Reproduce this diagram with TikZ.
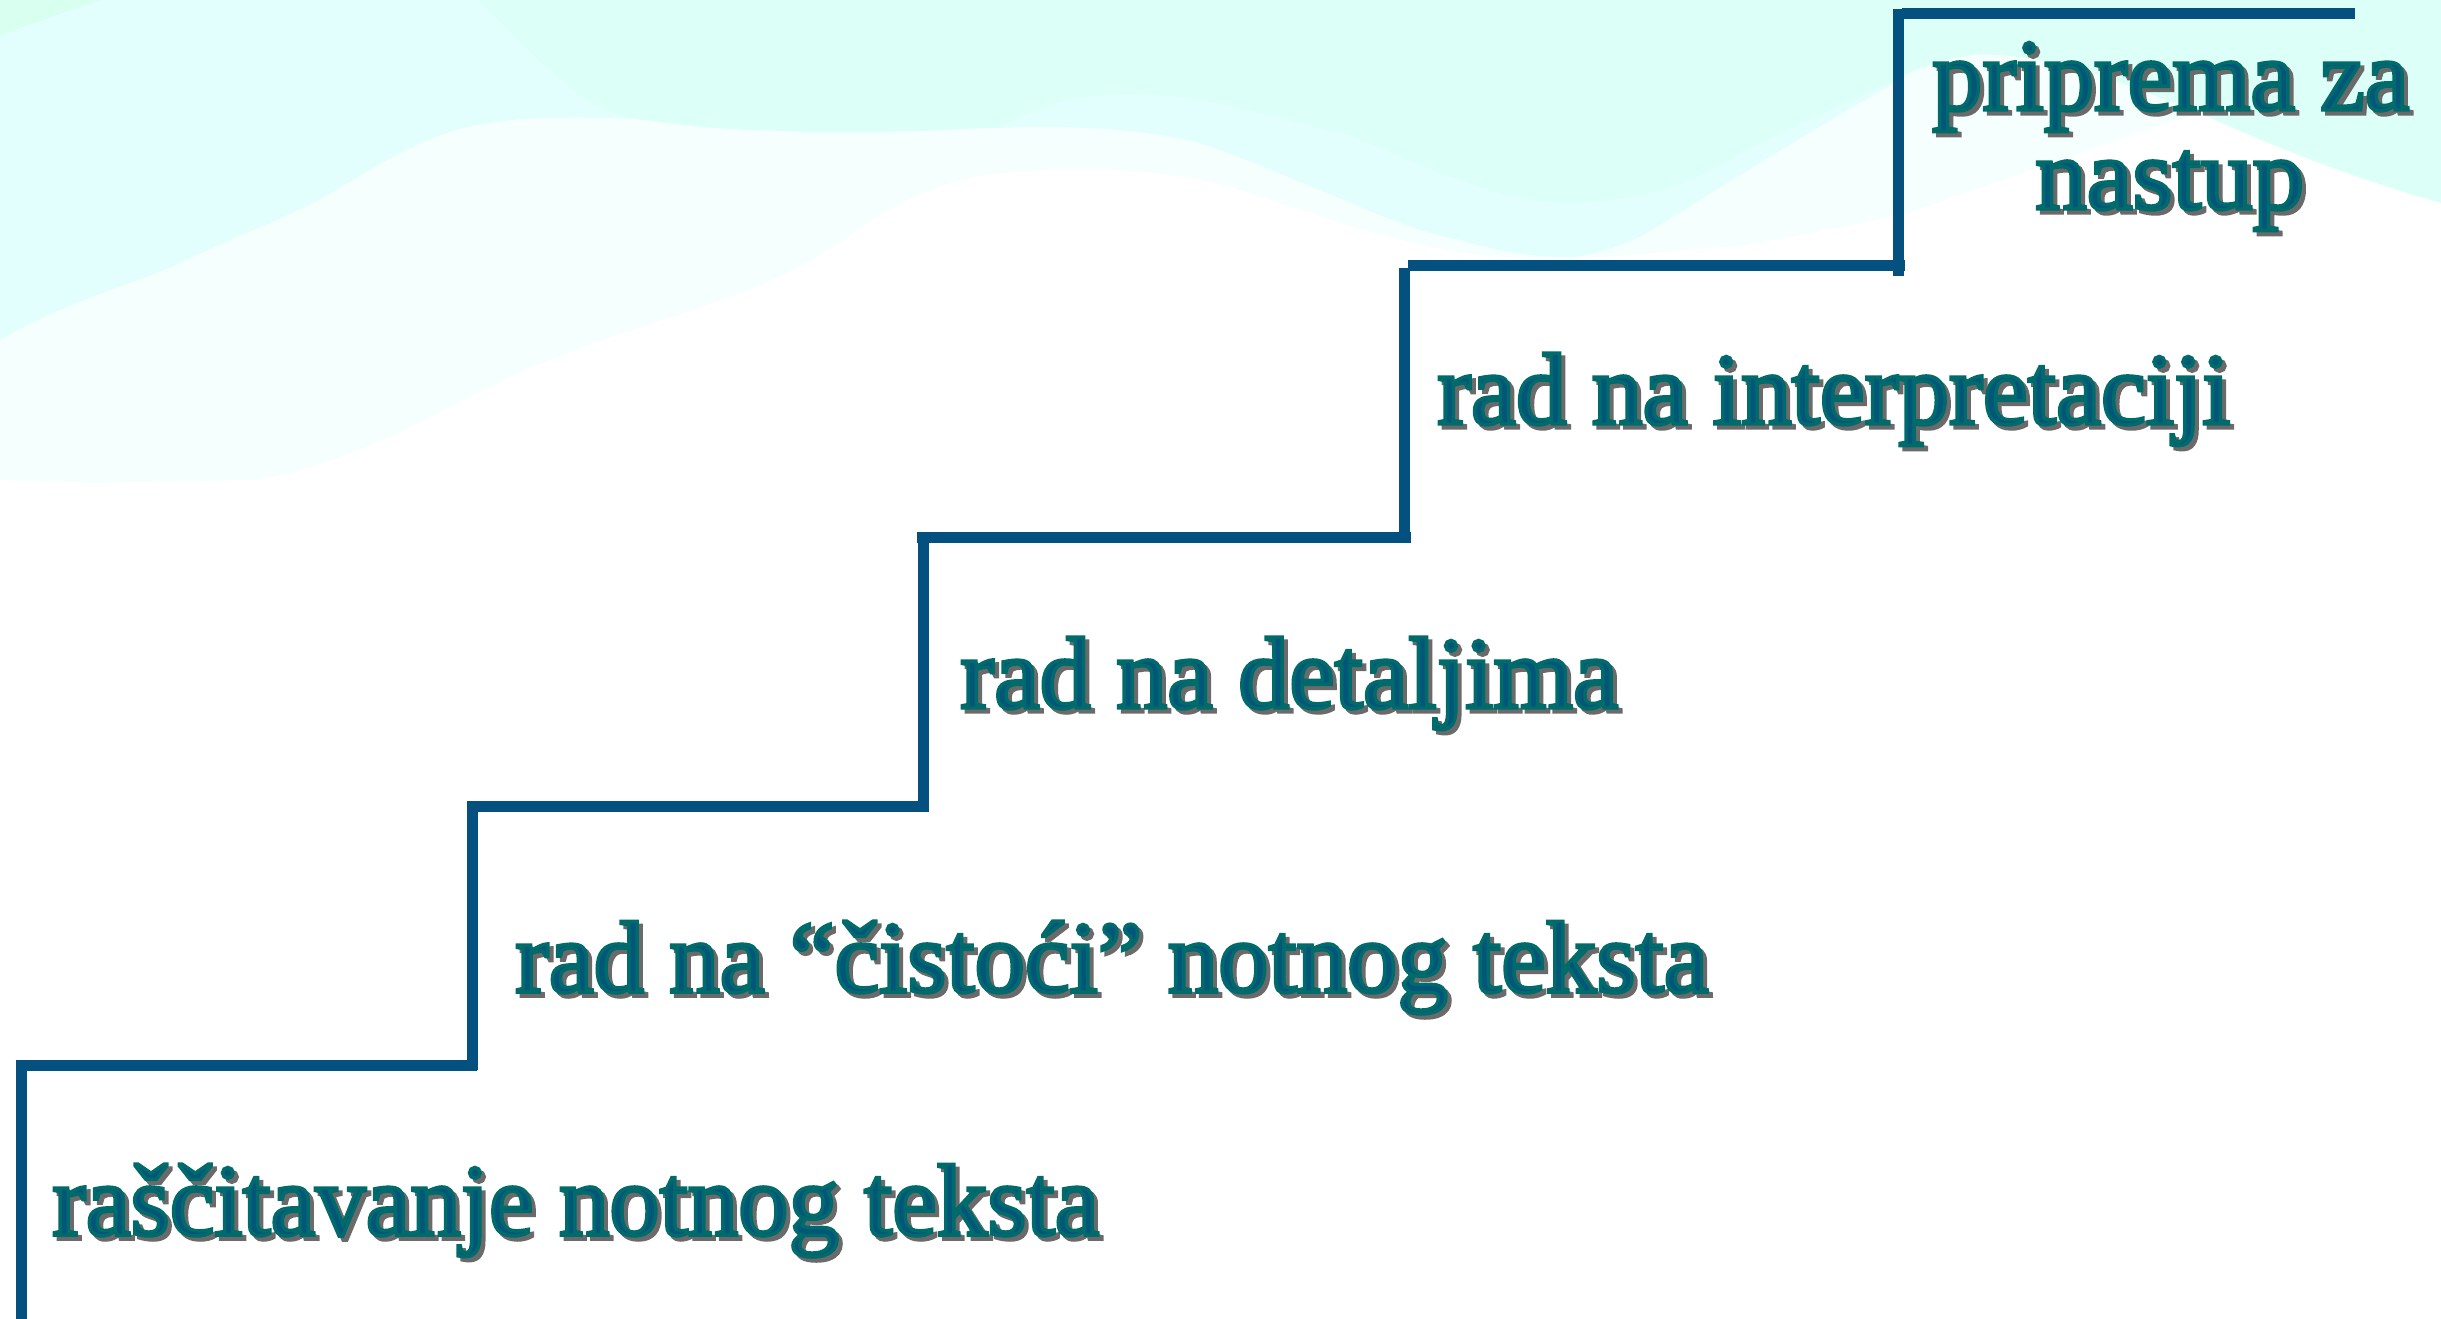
\documentclass[tikz,border=0pt]{standalone}
\usepackage{graphicx}
\usepackage{fontspec}
\setmainfont{Liberation Serif}
\newfontfamily\labf[FakeBold=3.4]{Liberation Serif}
\definecolor{stair}{HTML}{04507F}
\definecolor{core}{HTML}{02567A}
\definecolor{shade}{HTML}{6A6A6A}
\definecolor{wavea}{HTML}{DCFFF7}
\definecolor{waveb}{HTML}{E3FFFD}
\definecolor{wavec}{HTML}{F5FFFE}
\definecolor{wavecorner}{HTML}{D8FFEF}
\newcommand{\fit}[2]{\resizebox{#1pt}{\height}{\labf #2}}
\newcommand{\rimmed}[2]{\fit{#1}{\special{pdf:code 0 0.42 0.42 RG}#2}}
\begin{document}
\begin{tikzpicture}[x=1pt,y=-1pt,
 lab/.style={inner sep=0pt,anchor=base west,font=\fontsize{102}{110}\selectfont,text=core},
 shadow/.style={inner sep=0pt,anchor=base west,font=\fontsize{102}{110}\selectfont,text=shade},
 stairline/.style={draw=stair,line width=11pt,line cap=butt}]
\useasboundingbox (0,0) rectangle (2441,1319);
\fill[white] (0,0) rectangle (2441,1319);
% background waves
\fill[wavec] (0,0) -- (0,480) -- (96,483) -- (255,480) .. controls (350,465) and (430,415) .. (510,377)
  .. controls (600,335) and (690,315) .. (765,283) .. controls (830,255) and (860,225) .. (893,207)
  .. controls (930,188) and (965,176) .. (1000,173) .. controls (1090,165) and (1170,170) .. (1230,187)
  .. controls (1290,205) and (1340,225) .. (1402,240) .. controls (1460,255) and (1520,260) .. (1574,258)
  .. controls (1640,256) and (1700,248) .. (1746,245) .. controls (1800,235) and (1850,225) .. (1900,215)
  .. controls (1980,190) and (2080,150) .. (2200,113) -- (2200,0) -- cycle;
\fill[waveb] (0,0) -- (0,340) .. controls (60,305) and (115,290) .. (172,267)
  .. controls (225,240) and (270,225) .. (319,200) .. controls (370,170) and (400,150) .. (446,133)
  .. controls (480,122) and (520,118) .. (555,118) .. controls (640,116) and (700,125) .. (765,130)
  .. controls (850,135) and (930,128) .. (1000,128) .. controls (1080,125) and (1150,130) .. (1200,143)
  .. controls (1250,160) and (1300,182) .. (1344,200) .. controls (1385,218) and (1420,232) .. (1460,240)
  .. controls (1500,252) and (1540,258) .. (1574,257) .. controls (1610,252) and (1640,238) .. (1660,225)
  .. controls (1740,175) and (1820,125) .. (1900,80) -- (1900,0) -- cycle;
\fill[wavea] (478,0) .. controls (530,50) and (570,100) .. (625,117) .. controls (680,125) and (720,130) .. (765,130)
  .. controls (850,135) and (950,130) .. (1000,127) .. controls (1030,110) and (1060,100) .. (1086,97)
  .. controls (1130,92) and (1170,95) .. (1200,100) .. controls (1260,112) and (1310,125) .. (1350,135)
  .. controls (1430,170) and (1510,205) .. (1574,203) .. controls (1650,200) and (1700,180) .. (1746,150)
  .. controls (1800,125) and (1850,100) .. (1890,83) .. controls (1930,60) and (1970,52) .. (2000,55)
  .. controls (2070,60) and (2140,90) .. (2200,113) .. controls (2280,150) and (2360,180) .. (2441,203)
  -- (2441,0) -- cycle;
\fill[wavecorner] (0,0) -- (100,0) -- (0,35) -- cycle;
% stairs
\coordinate (s0) at (21,1319);
\coordinate (s1) at (21,1060);
\coordinate (s2) at (26,1065);
\coordinate (s3) at (477,1065);
\coordinate (s4) at (472,1070);
\coordinate (s5) at (472,801);
\coordinate (s6) at (477,806);
\coordinate (s7) at (928,806);
\coordinate (s8) at (923,812);
\coordinate (s9) at (923,532);
\coordinate (s10) at (917,537);
\coordinate (s11) at (1411,537);
\coordinate (s12) at (1404,542);
\coordinate (s13) at (1404,268);
\coordinate (s14) at (1408,265);
\coordinate (s15) at (1905,265);
\coordinate (s16) at (1898,276);
\coordinate (s17) at (1898,9);
\coordinate (s18) at (1902,14);
\coordinate (s19) at (2355,14);
\draw[stairline] (s0) -- (s1);
\draw[stairline] (s2) -- (s3);
\draw[stairline] (s4) -- (s5);
\draw[stairline] (s6) -- (s7);
\draw[stairline] (s8) -- (s9);
\draw[stairline] (s10) -- (s11);
\draw[stairline] (s12) -- (s13);
\draw[stairline] (s14) -- (s15);
\draw[stairline] (s16) -- (s17);
\draw[stairline] (s18) -- (s19);
% text shadows
\node[shadow] (a0) at (56,1239) {\fit{1047}{raščitavanje notnog teksta}};
\node[shadow] (b0) at (519,996) {\fit{1193}{rad na “čistoći” notnog teksta}};
\node[shadow] (c0) at (964,712) {\fit{658}{rad na detaljima}};
\node[shadow] (d0) at (1441,428) {\fit{793}{rad na interpretaciji}};
\node[shadow] (e0) at (1936,114) {\fit{477}{priprema za}};
\node[shadow] (f0) at (2039,213) {\fit{269}{nastup}};
% text
\node[lab] (a) at (52,1235) {\rimmed{1047}{raščitavanje notnog teksta}};
\node[lab] (b) at (515,992) {\rimmed{1193}{rad na “čistoći” notnog teksta}};
\node[lab] (c) at (960,708) {\rimmed{658}{rad na detaljima}};
\node[lab] (d) at (1437,424) {\rimmed{793}{rad na interpretaciji}};
\node[lab] (e) at (1932,110) {\rimmed{477}{priprema za}};
\node[lab] (f) at (2035,209) {\rimmed{269}{nastup}};
\end{tikzpicture}
\end{document}
